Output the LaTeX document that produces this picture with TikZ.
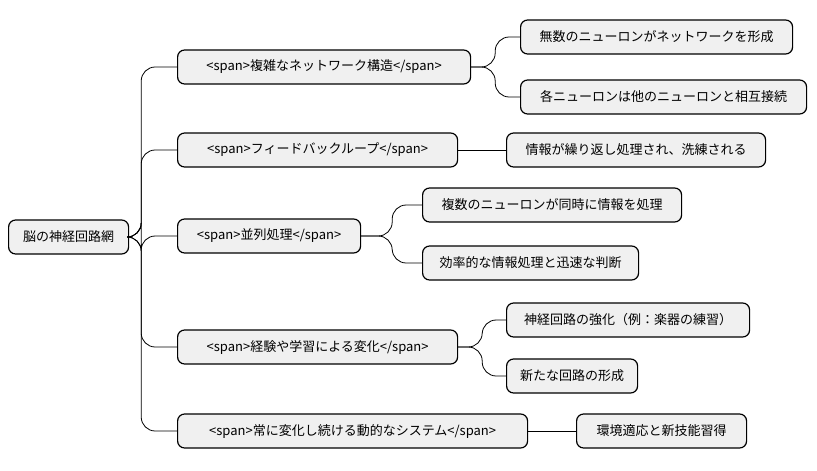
\documentclass[tikz,border=0pt]{standalone}
\usepackage{fontspec}
\setmainfont{Noto Sans CJK JP}
\begin{document}
\begin{tikzpicture}[x=1pt,y=-1pt,
  topic/.style={draw, line width=1.2pt, rounded corners=7pt, fill=black!6, anchor=west,
    minimum height=34pt, minimum width=#1, inner xsep=8pt, font=\fontsize{13}{16}\selectfont},
  link/.style={line width=0.8pt, rounded corners=14pt}]
  \useasboundingbox (0,0) rectangle (817,471);

  \node[topic=120pt] (root) at (8,237) {脳の神経回路網};

  \node[topic=293pt] (A) at (177,67) {<span>複雑なネットワーク構造</span>};
  \node[topic=280pt] (B) at (177,150) {<span>フィードバックループ</span>};
  \node[topic=183pt] (C) at (177,236) {<span>並列処理</span>};
  \node[topic=280pt] (D) at (177,347) {<span>経験や学習による変化</span>};
  \node[topic=350pt] (E) at (177,431) {<span>常に変化し続ける動的なシステム</span>};

  \node[topic=272pt] (A1) at (520,37) {無数のニューロンがネットワークを形成};
  \node[topic=286pt] (A2) at (520,97) {各ニューロンは他のニューロンと相互接続};
  \node[topic=259pt] (B1) at (506,150) {情報が繰り返し処理され、洗練される};
  \node[topic=259pt] (C1) at (422,205) {複数のニューロンが同時に情報を処理};
  \node[topic=216pt] (C2) at (422,263) {効率的な情報処理と迅速な判断};
  \node[topic=243pt] (D1) at (506,320) {神経回路の強化（例：楽器の練習）};
  \node[topic=131pt] (D2) at (506,376) {新たな回路の形成};
  \node[topic=170pt] (E1) at (576,431) {環境適応と新技能習得};

  \foreach \c in {A,B,C,D,E}
    \draw[link] (root.east) -- ++(12,0) |- (\c.west);

  \draw[link] (A.east) -- ++(24,0) |- (A1.west);
  \draw[link] (A.east) -- ++(24,0) |- (A2.west);
  \draw[link] (B.east) -- (B1.west);
  \draw[link] (C.east) -- ++(31,0) |- (C1.west);
  \draw[link] (C.east) -- ++(31,0) |- (C2.west);
  \draw[link] (D.east) -- ++(24,0) |- (D1.west);
  \draw[link] (D.east) -- ++(24,0) |- (D2.west);
  \draw[link] (E.east) -- (E1.west);
\end{tikzpicture}
\end{document}
